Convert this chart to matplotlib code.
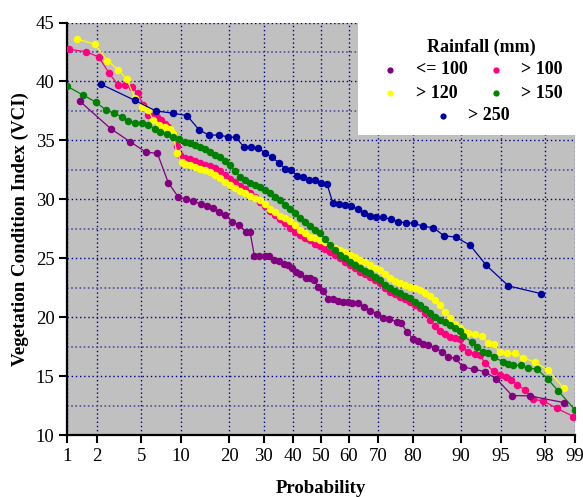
import math
import numpy as np
import matplotlib
matplotlib.use("Agg")
import matplotlib.pyplot as plt
from matplotlib.patches import Rectangle
from matplotlib.ticker import MultipleLocator

plt.rcParams['font.family'] = ['Liberation Serif', 'DejaVu Serif']

# ---- data (probability %, VCI) ----
le100_p = [1.37, 2.7, 4.0, 5.45, 6.7, 8.1, 9.56, 10.8, 12.1, 13.5, 14.9, 16.2, 17.5, 19.0, 20.8,
           22.7, 24.6, 25.8, 27.1, 28.4, 30.4, 31.7, 33.2, 35.0, 36.6, 38.1, 39.5, 41.0, 42.4, 44.4,
           46.0, 47.4, 49.0, 50.8, 52.7, 54.5, 56.3, 58.1, 59.6, 61.1, 63.4, 65.4, 67.3, 69.7, 71.6,
           73.4, 75.6, 76.8, 78.4, 80.1, 81.3, 82.6, 83.6, 85.2, 86.6, 87.8, 89.1, 90.3, 91.9, 93.3,
           94.6, 96.0, 97.2, 98.7]
le100_v = [38.3, 36.0, 34.9, 34.0, 33.9, 31.4, 30.2, 30.0, 29.86, 29.6, 29.45, 29.3, 28.95, 28.67, 28.1,
           27.8, 27.26, 27.2, 25.2, 25.2, 25.17, 25.15, 24.85, 24.77, 24.5, 24.45, 24.15, 23.8, 23.65, 23.35,
           23.3, 23.16, 22.6, 22.25, 21.55, 21.52, 21.4, 21.3, 21.25, 21.18, 21.18, 20.84, 20.55, 20.28, 19.97,
           19.83, 19.63, 19.5, 18.78, 18.13, 18.0, 17.73, 17.65, 17.37, 17.08, 16.6, 16.52, 15.76, 15.6, 15.38,
           14.76, 13.35, 13.32, 12.75]

mid_p = [10.65, 11.5, 12.4, 13.4, 14.4, 15.5, 16.6, 17.7, 19.0, 20.2, 21.5, 22.9, 24.3, 25.8, 27.3,
         28.8, 30.4, 32.0, 33.7, 35.4, 37.1, 38.8, 40.6, 42.4, 44.2, 46.0, 47.8, 49.6, 51.5, 53.3,
         55.1, 56.9, 58.7, 60.5, 62.2, 63.9, 65.6, 67.3, 68.9, 70.5, 72.1, 73.6, 75.1, 76.5, 77.9,
         79.2, 80.5, 81.8, 83.0, 84.1, 85.2, 86.2, 87.2, 88.1, 89.0, 89.9]

gt100_p = [1.06, 1.57, 2.09, 2.6, 3.13, 3.66, 4.17, 4.66, 5.2, 5.7, 6.1, 6.6, 7.1, 7.6, 8.1, 8.8, 9.4, 9.8] \
    + mid_p + [90.1, 91.1, 92.1, 92.7, 93.3, 94.3, 94.9, 95.5, 95.9, 96.4, 96.9, 97.4, 97.9, 98.45, 98.96]
gt100_v = [42.73, 42.52, 42.07, 40.74, 39.73, 39.67, 39.55, 38.98, 38.0, 37.15, 37.07, 37.0, 36.7, 36.4,
           36.16, 35.6, 34.55, 33.76,
           33.5, 33.4, 33.25, 33.1, 32.95, 32.8, 32.65, 32.4, 32.05, 31.75, 31.45, 31.15, 30.85, 30.55, 30.2,
           29.8, 29.4, 29.0, 28.65, 28.3, 27.95, 27.6, 27.25, 26.95, 26.75, 26.55, 26.25, 26.0, 25.77, 25.56,
           25.3, 25.0, 24.7, 24.43, 24.15, 23.86, 23.65, 23.44, 23.15, 22.88, 22.5, 22.17, 21.95, 21.75, 21.55,
           21.32, 21.05, 20.76, 20.35, 19.8, 19.25, 18.85, 18.55, 18.35, 18.25, 18.15,
           17.5, 17.08, 16.88, 16.8, 16.15, 15.4, 15.1, 14.96, 14.68, 14.25, 13.83, 13.04, 12.9, 12.28, 11.57]

gt120_p = [1.28, 1.92, 2.52, 3.17, 3.76, 4.43, 5.09, 5.7, 6.2, 6.9, 7.65, 8.3, 8.8, 9.3, 10.1] \
    + mid_p + [90.3, 91.1, 92.1, 92.95, 93.7, 94.3, 94.9, 95.6, 96.2, 96.8, 97.5, 98.1, 98.7]
gt120_v = [43.6, 43.15, 41.76, 41.0, 40.2, 38.57, 37.86, 37.58, 36.73, 36.3, 36.16, 36.0, 35.6, 33.9, 33.2,
           33.0, 32.9, 32.75, 32.6, 32.45, 32.3, 32.1, 31.8, 31.45, 31.2, 30.95, 30.7, 30.5, 30.3, 30.1,
           29.9, 29.6, 29.2, 28.9, 28.6, 28.4, 28.15, 27.8, 27.4, 27.1, 26.83, 26.7, 26.55, 26.35, 26.13,
           25.9, 25.7, 25.5, 25.28, 25.07, 24.86, 24.65, 24.43, 24.2, 24.0, 23.65, 23.3, 23.1, 22.88, 22.75,
           22.6, 22.45, 22.3, 22.05, 21.8, 21.45, 21.04, 20.45, 19.9, 19.45, 19.05,
           18.86, 18.64, 18.58, 18.4, 17.8, 17.75, 17.02, 16.94, 16.94, 16.56, 16.18, 15.53, 13.97]

gt150_p = [1.0, 1.46, 1.96, 2.45, 2.92, 3.4, 3.88, 4.43, 5.03, 5.7, 6.4, 7.0, 7.9, 8.8, 9.6] \
    + mid_p + [90.3, 91.6, 92.3, 93.1, 93.7, 94.3, 95.2, 95.7, 96.1, 96.65, 97.1, 97.6, 98.1, 98.5, 99.0]
gt150_v = [39.6, 38.85, 38.25, 37.57, 37.3, 37.0, 36.65, 36.5, 36.45, 36.3, 36.0, 35.74, 35.54, 35.3, 35.1,
           34.9, 34.75, 34.6, 34.47, 34.25, 34.04, 33.8, 33.6, 33.25, 32.9, 32.4, 31.92, 31.6, 31.36, 31.2,
           31.07, 30.8, 30.5, 30.2, 29.95, 29.55, 29.17, 28.8, 28.4, 28.05, 27.7, 27.4, 27.12, 26.6, 26.13,
           25.7, 25.28, 25.0, 24.72, 24.45, 24.15, 23.95, 23.73, 23.45, 23.16, 22.74, 22.45, 22.25, 22.03, 21.8,
           21.6, 21.3, 21.04, 20.7, 20.35, 20.0, 19.75, 19.55, 19.3, 19.05, 18.85,
           18.4, 17.93, 17.5, 17.08, 16.94, 16.6, 16.23, 16.04, 15.95, 15.9, 15.67, 15.6, 14.76, 13.77, 12.13]

gt250_p = [2.2, 4.4, 6.5, 8.8, 11.0, 13.2, 15.2, 17.5, 19.7, 21.8, 24.0, 26.1, 28.2, 30.4, 32.7,
           35.0, 37.1, 39.2, 41.3, 43.4, 45.6, 47.8, 50.0, 52.2, 54.3, 56.4, 58.7, 60.8, 63.2, 65.3,
           67.3, 69.4, 71.5, 73.8, 76.0, 78.2, 80.3, 82.6, 84.8, 87.0, 89.1, 91.4, 93.5, 95.7, 97.8]
gt250_v = [39.76, 38.4, 37.5, 37.3, 37.1, 35.9, 35.45, 35.45, 35.3, 35.25, 34.45, 34.4, 34.35, 33.95, 33.55,
           33.1, 32.6, 32.5, 32.0, 31.87, 31.64, 31.6, 31.4, 31.3, 29.7, 29.6, 29.5, 29.45, 29.15, 28.8,
           28.6, 28.5, 28.5, 28.3, 28.1, 28.0, 27.97, 27.7, 27.6, 26.9, 26.8, 26.1, 24.4, 22.65, 22.0]

series = [
    ("> 100", gt100_p, gt100_v, "#FF0080"),
    ("> 120", gt120_p, gt120_v, "#FFFF00"),
    ("> 150", gt150_p, gt150_v, "#008000"),
    ("<= 100", le100_p, le100_v, "#800080"),
    ("> 250", gt250_p, gt250_v, "#0000A0"),
]
prob_ticks = [1, 2, 5, 10, 20, 30, 40, 50, 60, 70, 80, 90, 95, 98, 99]

# normal probability scale
_zg = np.linspace(-7, 7, 40001)
_pg = 50.0 * (1 + np.vectorize(math.erf)(_zg / math.sqrt(2)))


def to_z(p):
    return np.interp(np.asarray(p, float), _pg, _zg)


def to_p(z):
    return np.interp(np.asarray(z, float), _zg, _pg)


fig = plt.figure(figsize=(5.83, 4.97), dpi=100)
ax = fig.add_axes([0.1149, 0.1247, 0.8714, 0.83])
ax.set_facecolor("#C0C0C0")
ax.set_xscale("function", functions=(to_z, to_p))

for name, p, v, col in series:
    ax.plot(p, v, "-", color=col, lw=0.9, zorder=3)
    ax.plot(p, v, "o", color=col, ms=5.4, mec="none", zorder=3)

ax.set_xlim(1, 99)
ax.set_ylim(10, 45)
ax.set_xticks(prob_ticks)
ax.set_xticklabels([str(t) for t in prob_ticks])
ax.xaxis.set_minor_locator(matplotlib.ticker.NullLocator())
ax.yaxis.set_major_locator(MultipleLocator(5))
ax.yaxis.set_minor_locator(MultipleLocator(2.5))

ax.grid(True, which="major", color="#000080", ls=(0, (1, 2)), lw=1.0, zorder=1)
ax.grid(True, which="minor", axis="y", color="#5050A0", ls=(0, (1, 1.5)), lw=1.2, zorder=1)
ax.set_axisbelow(True)

for s in ["top", "right"]:
    ax.spines[s].set_visible(False)
for s in ["left", "bottom"]:
    ax.spines[s].set_linewidth(1.6)
ax.tick_params(axis="both", which="major", direction="out", length=6, width=1.5,
               labelsize=13.5, pad=3)
ax.tick_params(axis="y", which="minor", length=0)

ax.set_xlabel("Probability", fontsize=13.5, fontweight="bold")
ax.set_ylabel("Vegetation Condition Index (VCI)", fontsize=13.6, fontweight="bold")
ax.xaxis.set_label_coords(0.5, -0.108)
ax.yaxis.set_label_coords(-0.075, 0.5)

# legend box
W, H = 583.0, 497.0
fig.add_artist(Rectangle((358 / W, 1 - 135 / H), 1 - 358 / W, 135 / H,
                         transform=fig.transFigure, facecolor="white", edgecolor="none", zorder=5))
fig.text(481 / W, 1 - 47 / H, "Rainfall (mm)", ha="center", va="center",
         fontsize=13, fontweight="bold", zorder=6)
leg_pos = {
    "<= 100": (390, 416, 70), "> 100": (496, 521, 70),
    "> 120": (390, 416, 93), "> 150": (496, 521, 93),
    "> 250": (443, 468, 116),
}
for name, p, v, col in series:
    mx, tx, ty = leg_pos[name]
    fig.add_artist(matplotlib.lines.Line2D([mx / W], [1 - ty / H], marker="o", ms=4.5,
                                           color=col, mec="none", ls="none",
                                           transform=fig.transFigure, zorder=6))
    fig.text(tx / W, 1 - ty / H, name, ha="left", va="center",
             fontsize=13, fontweight="bold", zorder=6)

fig.savefig("out.png", dpi=100)
